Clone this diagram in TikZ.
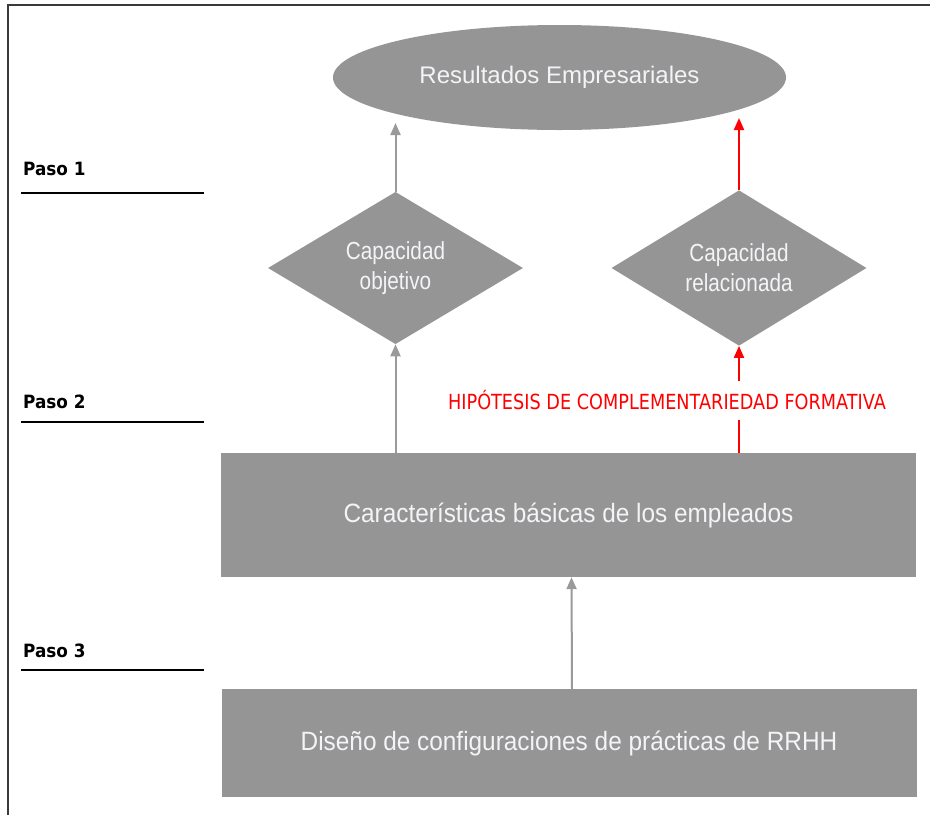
\documentclass[tikz,border=0pt]{standalone}
\usepackage{fontspec}
\setmainfont{Liberation Sans}
\newfontfamily\elipfont{Liberation Sans}
\newfontfamily\cajafont[FakeStretch=0.92]{Liberation Sans}
\newfontfamily\rombofont[FakeStretch=0.84]{Liberation Sans}
\newfontfamily\hipfont[FakeStretch=0.85]{DejaVu Sans}
\newfontfamily\pasofont[FakeStretch=0.92]{DejaVu Sans}
\usetikzlibrary{shapes.geometric,arrows.meta}

\definecolor{grisfondo}{HTML}{959595}
\definecolor{grisflecha}{HTML}{9A9A9A}
\definecolor{textoclaro}{HTML}{F4F4F8}
\definecolor{marco}{HTML}{3A3A3A}

\begin{document}
\begin{tikzpicture}[x=1pt,y=-1pt]
		\tikzstyle{every node}+=[inner sep=0pt]
		\tikzstyle{gris}=[fill=grisfondo, text=textoclaro]
		\tikzstyle{caja}=[gris, rectangle, minimum width=695, font=\cajafont\fontsize{26.5}{30}\selectfont]
		\tikzstyle{rombo}=[gris, diamond, minimum width=255, minimum height=148, align=center, font=\rombofont\fontsize{24.7}{30}\selectfont]
		\tikzstyle{flecha}=[grisflecha, line width=2pt, -{Triangle[width=10pt,length=12pt]}]
		\tikzstyle{flecharoja}=[red, line width=2pt, -{Triangle[width=10pt,length=12pt]}]
		\tikzstyle{paso}=[anchor=base west, font=\pasofont\bfseries\fontsize{18.3}{22}\selectfont]
		\tikzstyle{raya}=[black, line width=2pt]
		\useasboundingbox (0,0) rectangle (930,815);
		\draw [marco, line width=2pt] (7.5,815) -- (7.5,5) -- (930,5);
		\node [gris, ellipse, minimum width=453, minimum height=105, font=\elipfont\fontsize{24}{28}\selectfont] (res) at (559.5,77.5) {Resultados Empresariales};
		\node [rombo] (obj) at (395.5,268) {Capacidad\\objetivo};
		\node [rombo] (rel) at (739,268) {Capacidad\\relacionada};
		\node [caja, minimum height=124] (car) at (568.5,515) {Características básicas de los empleados};
		\node [caja, minimum height=108] (dis) at (569,743) {Diseño de configuraciones de prácticas de RRHH};
		\node [red, anchor=base, font=\hipfont\fontsize{20.8}{24}\selectfont] (hip) at (667,409) {HIPÓTESIS DE COMPLEMENTARIEDAD FORMATIVA};
		\node [paso] (p1) at (23,175) {Paso 1};
		\draw [raya] (21,193) -- (204,193);
		\node [paso] (p2) at (23,408) {Paso 2};
		\draw [raya] (21,422) -- (204,422);
		\node [paso] (p3) at (23,657) {Paso 3};
		\draw [raya] (21,670) -- (204,670);
		\coordinate (t1) at (395.5,123);
		\coordinate (t2) at (739,118);
		\coordinate (h1) at (739,420);
		\coordinate (h2) at (739,381);
		\draw [flecha] (obj.north) -- (t1);
		\draw [flecharoja] (rel.north) -- (t2);
		\draw [flecha] (car.north -| obj.south) -- (obj.south);
		\draw [red, line width=2pt] (car.north -| rel.south) -- (h1);
		\draw [flecharoja] (h2) -- (rel.south);
		\draw [flecha] ([xshift=3pt]dis.north) -- ([xshift=3pt]car.south);
	\end{tikzpicture}
\end{document}
